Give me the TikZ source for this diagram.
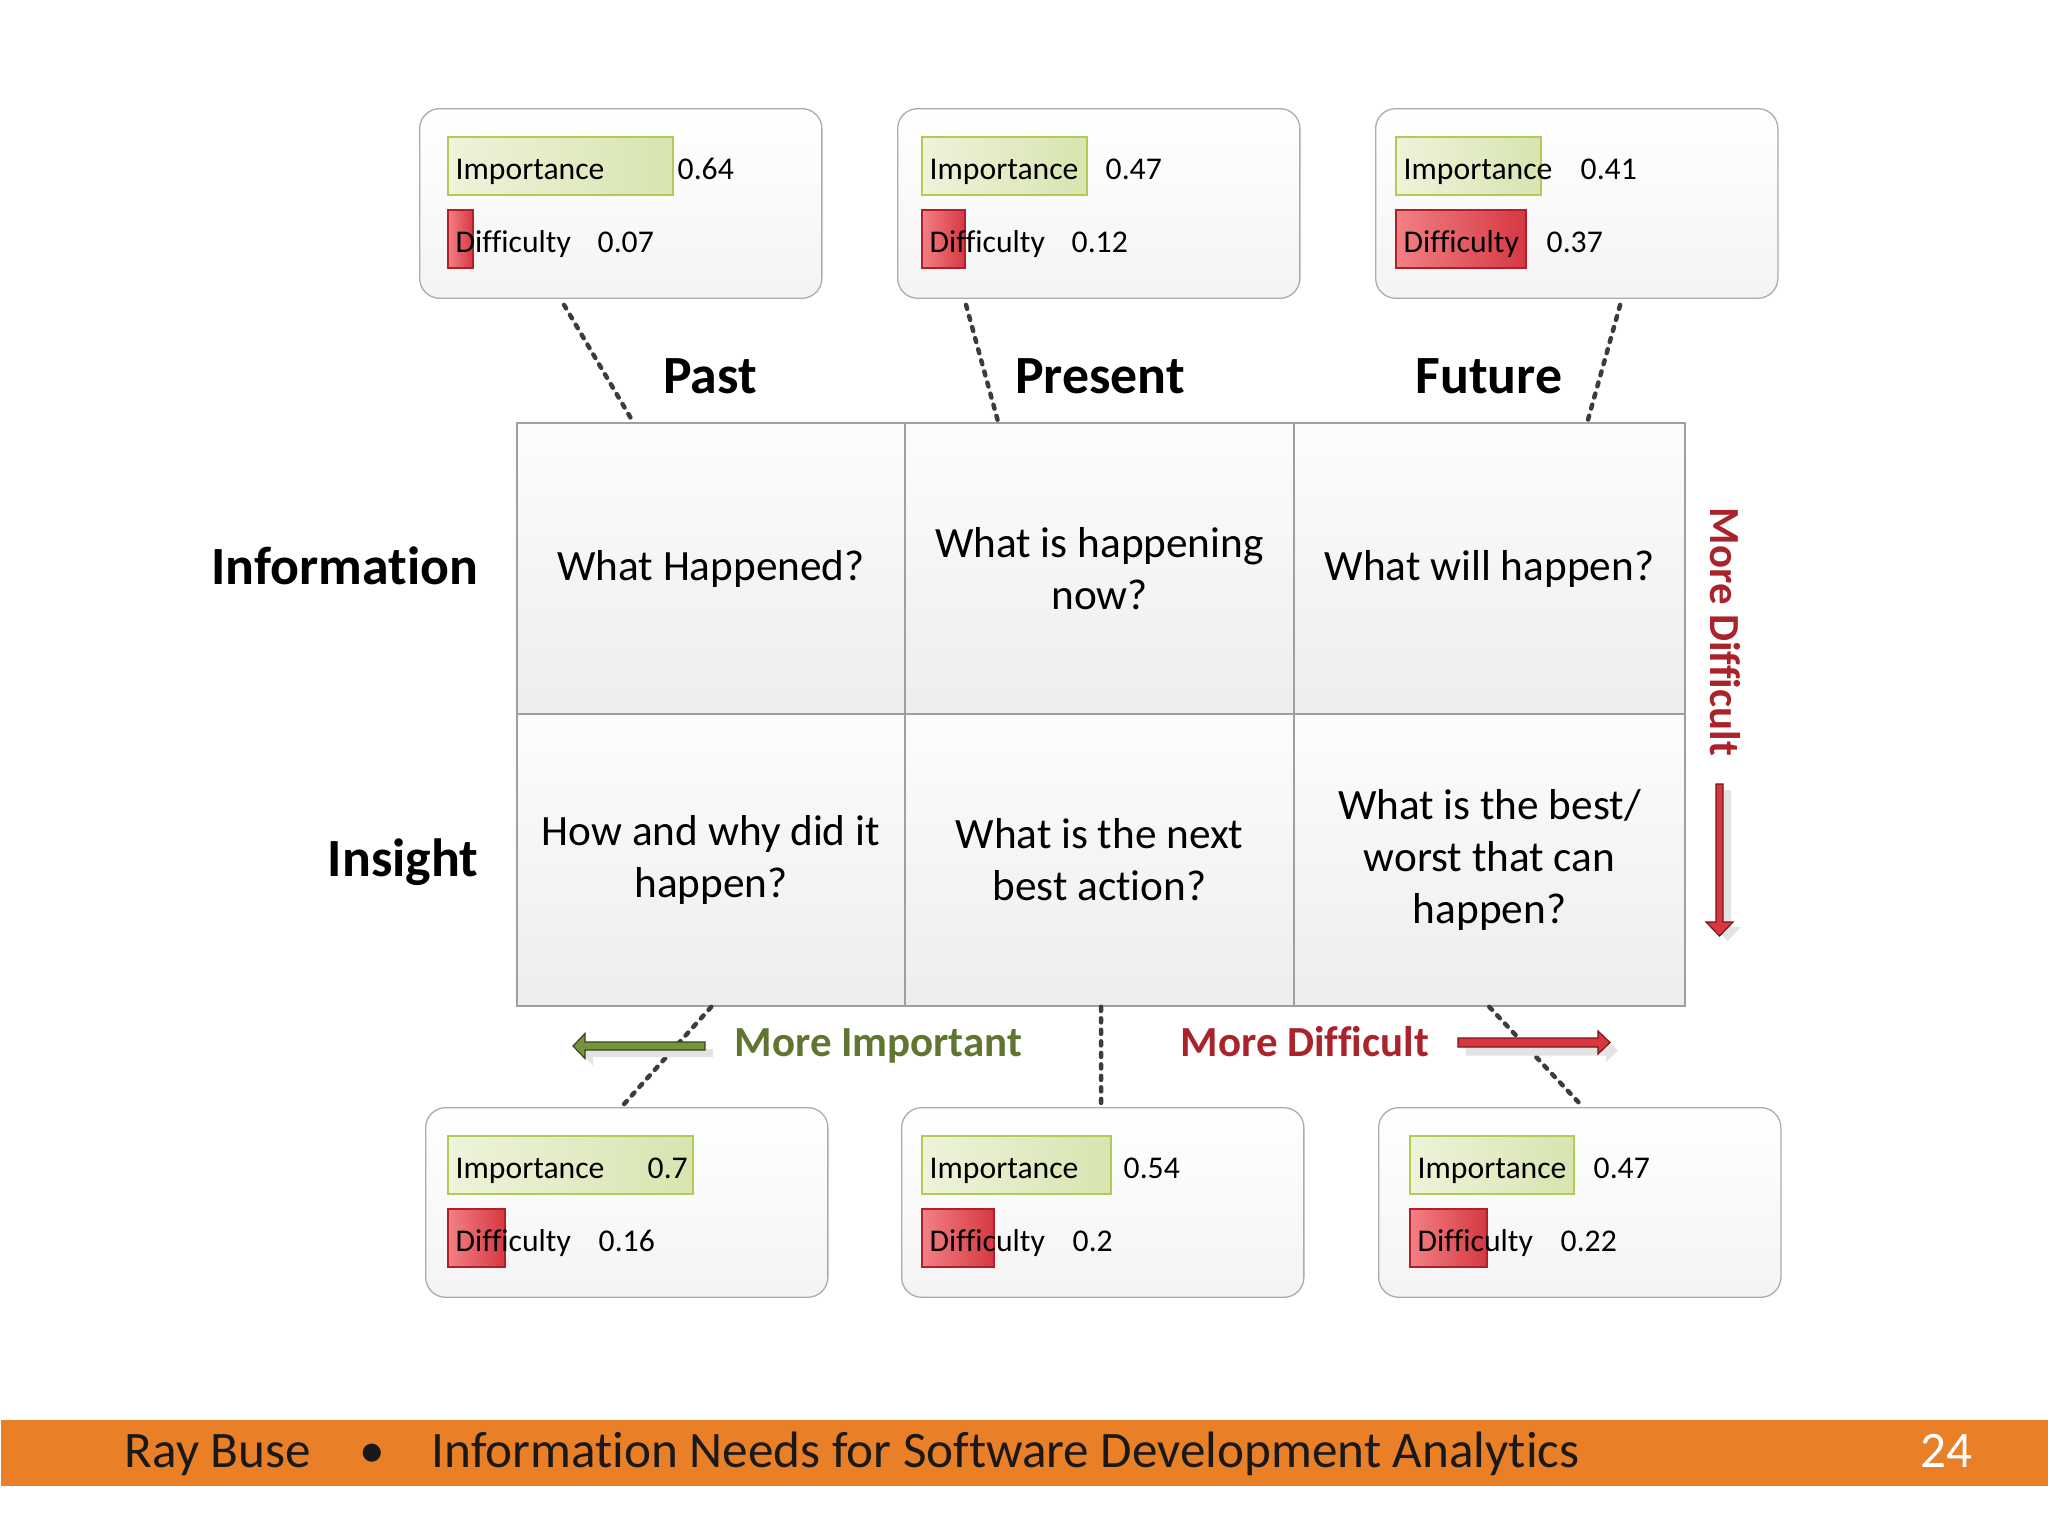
\documentclass[tikz,border=0pt]{standalone}
\usepackage{fontspec}
\setmainfont{Carlito}[Ligatures=NoCommon]
\usetikzlibrary{calc}
\definecolor{footorange}{RGB}{233,128,40}
\definecolor{impA}{RGB}{238,243,218}
\definecolor{impB}{RGB}{216,228,176}
\definecolor{impborder}{RGB}{176,204,86}
\definecolor{diffA}{RGB}{242,128,132}
\definecolor{diffB}{RGB}{214,56,66}
\definecolor{diffborder}{RGB}{176,32,42}
\definecolor{dotcol}{RGB}{60,60,60}
\definecolor{greenlbl}{RGB}{95,117,48}
\definecolor{redlbl}{RGB}{170,35,42}
\definecolor{garrow}{RGB}{119,147,60}
\definecolor{garrowline}{RGB}{55,70,28}
\definecolor{rarrow}{RGB}{217,55,62}
\definecolor{rarrowline}{RGB}{120,20,25}
\newcommand\cellfnt{\fontsize{12.3}{14.8}\selectfont}
\newcommand\panelfnt{\fontsize{9}{11}\selectfont}
\newcommand\hdfnt{\bfseries\fontsize{15.3}{18}\selectfont}
\newcommand\lblfnt{\bfseries\fontsize{12.2}{14}\selectfont}
\newcommand\ftfnt{\fontsize{14.55}{17}\selectfont}
\tikzset{
  cellbox/.style={draw=gray!75, line width=0.015cm, top color=gray!2, bottom color=gray!14,
    inner sep=0pt, align=center, font=\cellfnt, text=black},
  panel/.style={draw=gray!65, line width=0.013cm, rounded corners=0.2cm, top color=white,
    bottom color=gray!9, minimum width=4.02cm, minimum height=1.895cm, anchor=north west, inner sep=0pt},
  impbar/.style={draw=impborder, line width=0.012cm, left color=impA, right color=impB},
  diffbar/.style={draw=diffborder, line width=0.012cm, left color=diffA, right color=diffB},
  smalltxt/.style={font=\panelfnt, inner sep=0pt, anchor=base west},
  head/.style={font=\hdfnt, inner sep=0pt},
  dotline/.style={draw=dotcol, line width=0.045cm, line cap=round, dash pattern=on 0.04cm off 0.075cm},
  lbl/.style={font=\lblfnt, inner sep=0pt},
  foottxt/.style={font=\ftfnt, inner sep=0pt, anchor=base west},
  shadowcol/.style={fill=gray!22, draw=none},
}
\newcommand\rowtop{108}
\newcommand\metricpanel[9]{%
  \node[panel] (#1) at (#2,\rowtop) {};
  \draw[impbar] (#3,{\rowtop+29}) rectangle (#4,{\rowtop+87});
  \draw[diffbar] (#3,{\rowtop+102}) rectangle (#7,{\rowtop+160});
  \node[smalltxt] (#1imp) at ({#3+7},{\rowtop+71}) {Importance};
  \node[smalltxt] (#1impv) at (#5,{\rowtop+71}) {#6};
  \node[smalltxt] (#1dif) at ({#3+7},{\rowtop+144}) {Difficulty};
  \node[smalltxt] (#1difv) at (#8,{\rowtop+144}) {#9};
}
\begin{document}
\begin{tikzpicture}[x=0.01cm, y=-0.01cm]
\useasboundingbox (0,0) rectangle (2048,1536);
\fill[white] (0,0) rectangle (2048,1536);

% grid cells
\node[cellbox, minimum width=3.88cm, minimum height=2.91cm] (c11) at (711,568.5) {What Happened?};
\node[cellbox, minimum width=3.89cm, minimum height=2.91cm] (c12) at (1099.5,568.5) {What is happening\\now?};
\node[cellbox, minimum width=3.91cm, minimum height=2.91cm] (c13) at (1489.5,568.5) {What will happen?};
\node[cellbox, minimum width=3.88cm, minimum height=2.92cm] (c21) at (711,860) {How and why did it\\happen?};
\node[cellbox, minimum width=3.89cm, minimum height=2.92cm] (c22) at (1099.5,860) {What is the next\\best action?};
\node[cellbox, minimum width=3.91cm, minimum height=2.92cm] (c23) at (1489.5,860) {What is the best/\\worst that can\\happen?};

% headers
\node[head, anchor=base] (past) at (710,393) {Past};
\node[head, anchor=base] (present) at (1100,393) {Present};
\node[head, anchor=base] (future) at (1489,393) {Future};
\node[head, anchor=base east] (info) at (479,584) {Information};
\node[head, anchor=base east] (insight) at (479,876) {Insight};

% panels top row
\metricpanel{b1}{419}{448}{673}{677}{0.64}{473}{597}{0.07}
\metricpanel{b2}{897}{922}{1087}{1105}{0.47}{965}{1071}{0.12}
\metricpanel{b3}{1375}{1396}{1541}{1580}{0.41}{1526}{1546}{0.37}
% panels bottom row
\renewcommand\rowtop{1107}
\metricpanel{b4}{425}{448}{693}{647}{0.7}{505}{598}{0.16}
\metricpanel{b5}{901}{922}{1111}{1123}{0.54}{994}{1072}{0.2}
\metricpanel{b6}{1378}{1410}{1574}{1593}{0.47}{1487}{1560}{0.22}

% dotted connectors
\draw[dotline] ([xshift=1.45cm,yshift=-0.06cm]b1.south west) -- ([xshift=1.17cm]c11.north west);
\draw[dotline] ([xshift=0.69cm,yshift=-0.06cm]b2.south west) -- ([xshift=0.94cm]c12.north west);
\draw[dotline] ([xshift=2.45cm,yshift=-0.06cm]b3.south west) -- ([xshift=2.94cm]c13.north west);
\draw[dotline] ([xshift=1.95cm]c21.south west) -- ([xshift=1.99cm,yshift=0.03cm]b4.north west);
\draw[dotline] ([xshift=0.015cm]c22.south) -- ([xshift=2.0cm,yshift=0.03cm]b5.north west);
\draw[dotline] ([xshift=1.96cm]c23.south west) -- ([xshift=2.02cm,yshift=0.03cm]b6.north west);

% green arrow (More Important)
\fill[shadowcol] (713,1049) -- (593,1049) -- (593,1040.5) -- (581,1053) -- (593,1065.5) -- (593,1057) -- (713,1057) -- cycle;
\draw[fill=garrow, draw=garrowline, line width=0.012cm] (705,1042) -- (585,1042) -- (585,1033.5) -- (573,1046) -- (585,1058.5) -- (585,1050) -- (705,1050) -- cycle;
\node[lbl, text=greenlbl, anchor=base west] (moreimp) at (734,1056) {More Important};

% red arrow (More Difficult, horizontal)
\node[lbl, text=redlbl, anchor=base west] (morediff) at (1180,1056) {More Difficult};
\fill[shadowcol] (1466,1045.5) -- (1606,1045.5) -- (1606,1039) -- (1618,1050.5) -- (1606,1062) -- (1606,1055.5) -- (1466,1055.5) -- cycle;
\draw[fill=rarrow, draw=rarrowline, line width=0.012cm] (1458,1038) -- (1598,1038) -- (1598,1031) -- (1610,1042.5) -- (1598,1054) -- (1598,1047) -- (1458,1047) -- cycle;

% vertical red arrow
\node[lbl, text=redlbl, rotate=-90, anchor=base west] (morediffv) at (1710,507) {More Difficult};
\fill[shadowcol] (1724,790) -- (1731,790) -- (1731,927) -- (1741,927) -- (1727.5,941) -- (1714,927) -- (1724,927) -- cycle;
\draw[fill=rarrow, draw=rarrowline, line width=0.012cm] (1716,784) -- (1723,784) -- (1723,922) -- (1733,922) -- (1719.5,936) -- (1706,922) -- (1716,922) -- cycle;

% footer
\node[fill=footorange, minimum width=20.48cm, minimum height=0.66cm, anchor=north west, inner sep=0pt] (footer) at (0,1419) {};
\node[foottxt, text=black!90] (author) at (124,1467) {Ray Buse};
\node[font=\ftfnt, inner sep=0pt, anchor=base, text=black!90] (bullet) at (372,1467) {•};
\node[foottxt, text=black!90] (title) at (431,1467) {Information Needs for Software Development Analytics};
\node[foottxt, text=white] (pageno) at (1920,1467) {24};
\end{tikzpicture}
\end{document}
